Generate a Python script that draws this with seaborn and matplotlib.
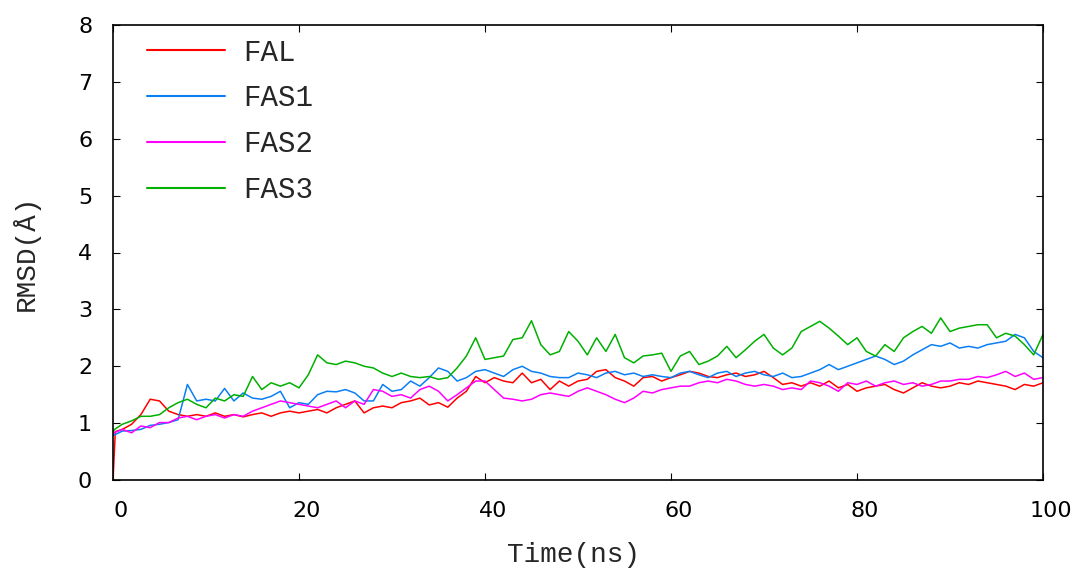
import matplotlib
matplotlib.use("Agg")
import matplotlib.pyplot as plt
import matplotlib.transforms as mtransforms
import numpy as np
import pandas as pd
import seaborn as sns

# ---- data ----
time_ns = [0, 0.25] + list(range(1, 101))

fal = [0.00, 0.85,
       0.89, 0.98, 1.15, 1.42, 1.39, 1.21, 1.15, 1.12, 1.15, 1.12,
       1.18, 1.12, 1.15, 1.11, 1.15, 1.18, 1.12, 1.18, 1.21, 1.18,
       1.21, 1.24, 1.18, 1.27, 1.33, 1.39, 1.18, 1.27, 1.30, 1.27,
       1.36, 1.39, 1.44, 1.32, 1.36, 1.28, 1.44, 1.56, 1.82, 1.71,
       1.80, 1.74, 1.71, 1.88, 1.71, 1.77, 1.59, 1.74, 1.65, 1.74,
       1.77, 1.91, 1.94, 1.80, 1.74, 1.65, 1.80, 1.82, 1.74, 1.80,
       1.85, 1.91, 1.88, 1.82, 1.80, 1.85, 1.88, 1.82, 1.85, 1.91,
       1.80, 1.68, 1.71, 1.65, 1.71, 1.65, 1.74, 1.62, 1.68, 1.56,
       1.62, 1.65, 1.68, 1.59, 1.53, 1.62, 1.71, 1.65, 1.62, 1.65,
       1.71, 1.68, 1.74, 1.71, 1.68, 1.65, 1.59, 1.68, 1.65, 1.71]

fas1 = [0.78, 0.80,
        0.86, 0.87, 0.89, 0.96, 0.98, 1.01, 1.06, 1.68, 1.39, 1.42,
        1.39, 1.61, 1.39, 1.53, 1.44, 1.42, 1.47, 1.56, 1.27, 1.36,
        1.33, 1.50, 1.56, 1.55, 1.59, 1.53, 1.39, 1.39, 1.68, 1.56,
        1.59, 1.74, 1.65, 1.80, 1.97, 1.91, 1.74, 1.80, 1.91, 1.94,
        1.88, 1.82, 1.94, 2.00, 1.91, 1.88, 1.82, 1.80, 1.80, 1.88,
        1.85, 1.80, 1.88, 1.91, 1.85, 1.88, 1.82, 1.85, 1.82, 1.80,
        1.88, 1.91, 1.85, 1.80, 1.88, 1.91, 1.82, 1.88, 1.91, 1.85,
        1.82, 1.88, 1.80, 1.82, 1.88, 1.94, 2.03, 1.94, 2.00, 2.06,
        2.12, 2.18, 2.12, 2.03, 2.09, 2.20, 2.29, 2.38, 2.35, 2.41,
        2.32, 2.35, 2.32, 2.38, 2.41, 2.44, 2.56, 2.50, 2.26, 2.15]

fas2 = [0.82, 0.84,
        0.89, 0.83, 0.95, 0.92, 1.01, 1.01, 1.09, 1.12, 1.06, 1.12,
        1.15, 1.09, 1.15, 1.12, 1.21, 1.27, 1.33, 1.39, 1.36, 1.33,
        1.30, 1.27, 1.33, 1.39, 1.27, 1.39, 1.33, 1.59, 1.56, 1.47,
        1.50, 1.44, 1.59, 1.65, 1.56, 1.39, 1.50, 1.62, 1.74, 1.74,
        1.59, 1.44, 1.42, 1.39, 1.42, 1.50, 1.53, 1.50, 1.47, 1.56,
        1.62, 1.56, 1.50, 1.42, 1.36, 1.44, 1.56, 1.53, 1.59, 1.62,
        1.65, 1.65, 1.71, 1.74, 1.71, 1.77, 1.74, 1.68, 1.65, 1.68,
        1.65, 1.59, 1.62, 1.59, 1.74, 1.71, 1.65, 1.56, 1.71, 1.68,
        1.74, 1.65, 1.71, 1.74, 1.68, 1.71, 1.65, 1.68, 1.74, 1.74,
        1.77, 1.77, 1.82, 1.80, 1.85, 1.91, 1.82, 1.88, 1.77, 1.80]

fas3 = [0.85, 0.90,
        0.98, 1.04, 1.12, 1.12, 1.15, 1.27, 1.36, 1.42, 1.33, 1.27,
        1.44, 1.39, 1.50, 1.47, 1.82, 1.59, 1.71, 1.65, 1.71, 1.62,
        1.85, 2.20, 2.06, 2.03, 2.09, 2.06, 2.00, 1.97, 1.88, 1.82,
        1.88, 1.82, 1.80, 1.82, 1.77, 1.80, 1.97, 2.18, 2.50, 2.12,
        2.15, 2.18, 2.47, 2.50, 2.80, 2.38, 2.20, 2.26, 2.61, 2.44,
        2.20, 2.50, 2.26, 2.56, 2.15, 2.06, 2.18, 2.20, 2.23, 1.91,
        2.18, 2.26, 2.03, 2.09, 2.18, 2.35, 2.15, 2.29, 2.44, 2.56,
        2.32, 2.20, 2.32, 2.61, 2.70, 2.79, 2.67, 2.53, 2.38, 2.50,
        2.26, 2.18, 2.38, 2.26, 2.50, 2.61, 2.70, 2.58, 2.85, 2.61,
        2.67, 2.70, 2.73, 2.73, 2.50, 2.58, 2.53, 2.38, 2.20, 2.56]

series_names = ["FAL", "FAS1", "FAS2", "FAS3"]
series_colors = ["#ff0000", "#0a7ff5", "#ff00ff", "#00b000"]

x_ticks = [0, 20, 40, 60, 80, 100]
y_ticks = [0, 1, 2, 3, 4, 5, 6, 7, 8]

df = pd.concat([
    pd.DataFrame({"Time": time_ns, "RMSD": vals, "System": name})
    for name, vals in zip(series_names, [fal, fas1, fas2, fas3])
], ignore_index=True)

# ---- style ----
sns.set_style("ticks")
plt.rcParams["font.family"] = ["DejaVu Sans"]

fig = plt.figure(figsize=(10.77, 5.70), dpi=100)
ax = fig.add_axes([113 / 1077, 1 - 480 / 570, 930 / 1077, 455 / 570])

sns.lineplot(data=df, x="Time", y="RMSD", hue="System",
             hue_order=series_names, palette=series_colors,
             estimator=None, linewidth=1.1, ax=ax)

ax.set_xlim(0, 100)
ax.set_ylim(0, 8)
ax.set_xticks(x_ticks)
ax.set_yticks(y_ticks)
ax.set_xticklabels([str(v) for v in x_ticks])
ax.set_yticklabels([str(v) for v in y_ticks])

for sp in ax.spines.values():
    sp.set_visible(True)
    sp.set_linewidth(1.2)
    sp.set_color("black")

ax.tick_params(direction="in", top=True, right=True, length=5, width=0.8,
               labelsize=16, colors="black")
ax.tick_params(axis="x", pad=15)
ax.tick_params(axis="y", pad=15)

# gnuplot-like slight right shift of x tick labels
offset = mtransforms.ScaledTranslation(8 / 100, 0, fig.dpi_scale_trans)
for lab in ax.get_xticklabels():
    lab.set_transform(lab.get_transform() + offset)

mono = "Liberation Mono"
ax.set_xlabel("Time(ns)", fontsize=20, family=mono)
ax.set_ylabel("RMSD(Å)", fontsize=20, family=mono)
ax.xaxis.set_label_coords(0.495, -0.137)
ax.yaxis.set_label_coords(-0.079, 0.5)

leg = ax.legend(loc="upper left", bbox_to_anchor=(0.037, 0.97),
                frameon=False, prop={"family": mono, "size": 21},
                handlelength=2.67, handletextpad=0.62, labelspacing=0.61,
                borderpad=0, borderaxespad=0)
for line in leg.get_lines():
    line.set_linewidth(1.5)

fig.savefig("out.png", dpi=100, facecolor="white")
